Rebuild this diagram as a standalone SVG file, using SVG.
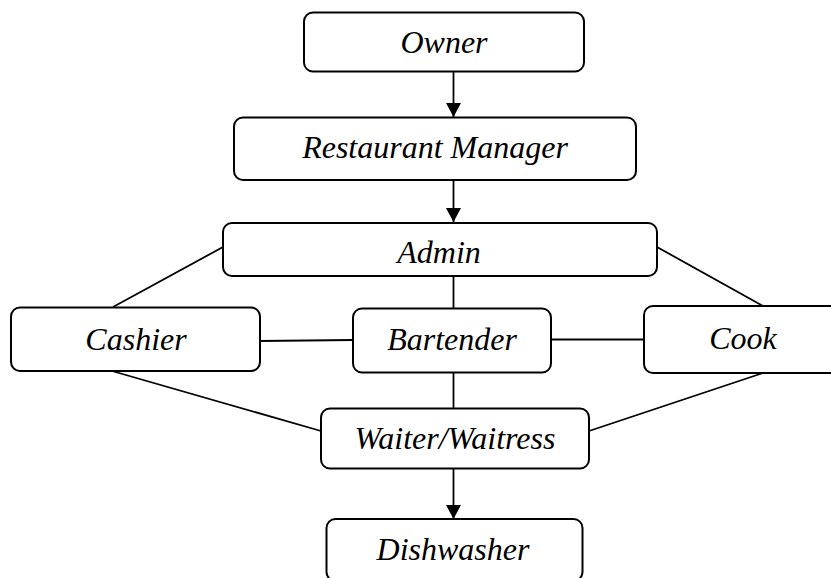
<svg xmlns="http://www.w3.org/2000/svg" width="831" height="578" viewBox="0 0 831 578">
<style>
.box{fill:#fff;stroke:#000;stroke-width:2}
.lbl{font-family:"Liberation Serif","Times New Roman",serif;font-style:italic;font-size:32px;fill:#000;text-anchor:middle}
.ln{stroke:#000;stroke-width:1.8;fill:none}
</style>
<defs>
<marker id="arr" viewBox="0 0 14 15" refX="14" refY="7.5" markerWidth="14" markerHeight="15" markerUnits="userSpaceOnUse" orient="auto">
<path d="M0,0 L14,7.5 L0,15 Z" fill="#000"/>
</marker>
</defs>
<g id="connectors">
<line class="ln" x1="453.5" y1="72" x2="453.5" y2="117" marker-end="url(#arr)"/>
<line class="ln" x1="453.5" y1="180" x2="453.5" y2="222" marker-end="url(#arr)"/>
<line class="ln" x1="453.5" y1="276" x2="453.5" y2="308"/>
<line class="ln" x1="453.5" y1="372" x2="453.5" y2="408"/>
<line class="ln" x1="453.5" y1="468" x2="453.5" y2="519" marker-end="url(#arr)"/>
<line class="ln" x1="260" y1="341" x2="353" y2="340"/>
<line class="ln" x1="551" y1="339.5" x2="644" y2="339.5"/>
<line class="ln" x1="223" y1="247" x2="113" y2="307"/>
<line class="ln" x1="657" y1="247" x2="763" y2="306"/>
<line class="ln" x1="112" y1="371" x2="321" y2="431"/>
<line class="ln" x1="763" y1="373" x2="589" y2="431"/>
</g>
<g id="owner">
<rect class="box" x="304" y="12.5" width="280" height="59" rx="9"/>
<text class="lbl" x="444" y="53">Owner</text>
</g>
<g id="manager">
<rect class="box" x="234" y="117.5" width="402" height="62.5" rx="9"/>
<text class="lbl" x="435" y="157.5">Restaurant Manager</text>
</g>
<g id="admin">
<rect class="box" x="223" y="223" width="434" height="53" rx="9"/>
<text class="lbl" x="439" y="262.5">Admin</text>
</g>
<g id="cashier">
<rect class="box" x="11" y="307.5" width="249" height="63.5" rx="9"/>
<text class="lbl" x="136" y="349.5">Cashier</text>
</g>
<g id="bartender">
<rect class="box" x="353" y="308.5" width="198" height="64" rx="9"/>
<text class="lbl" x="452" y="350">Bartender</text>
</g>
<g id="cook">
<rect class="box" x="644" y="306" width="198" height="67" rx="9"/>
<text class="lbl" x="743" y="348.5">Cook</text>
</g>
<g id="waiter">
<rect class="box" x="321" y="408.5" width="268" height="60" rx="9"/>
<text class="lbl" x="455" y="449">Waiter/Waitress</text>
</g>
<g id="dishwasher">
<rect class="box" x="326.5" y="519" width="256" height="62" rx="9"/>
<text class="lbl" x="453" y="559.5">Dishwasher</text>
</g>
</svg>
